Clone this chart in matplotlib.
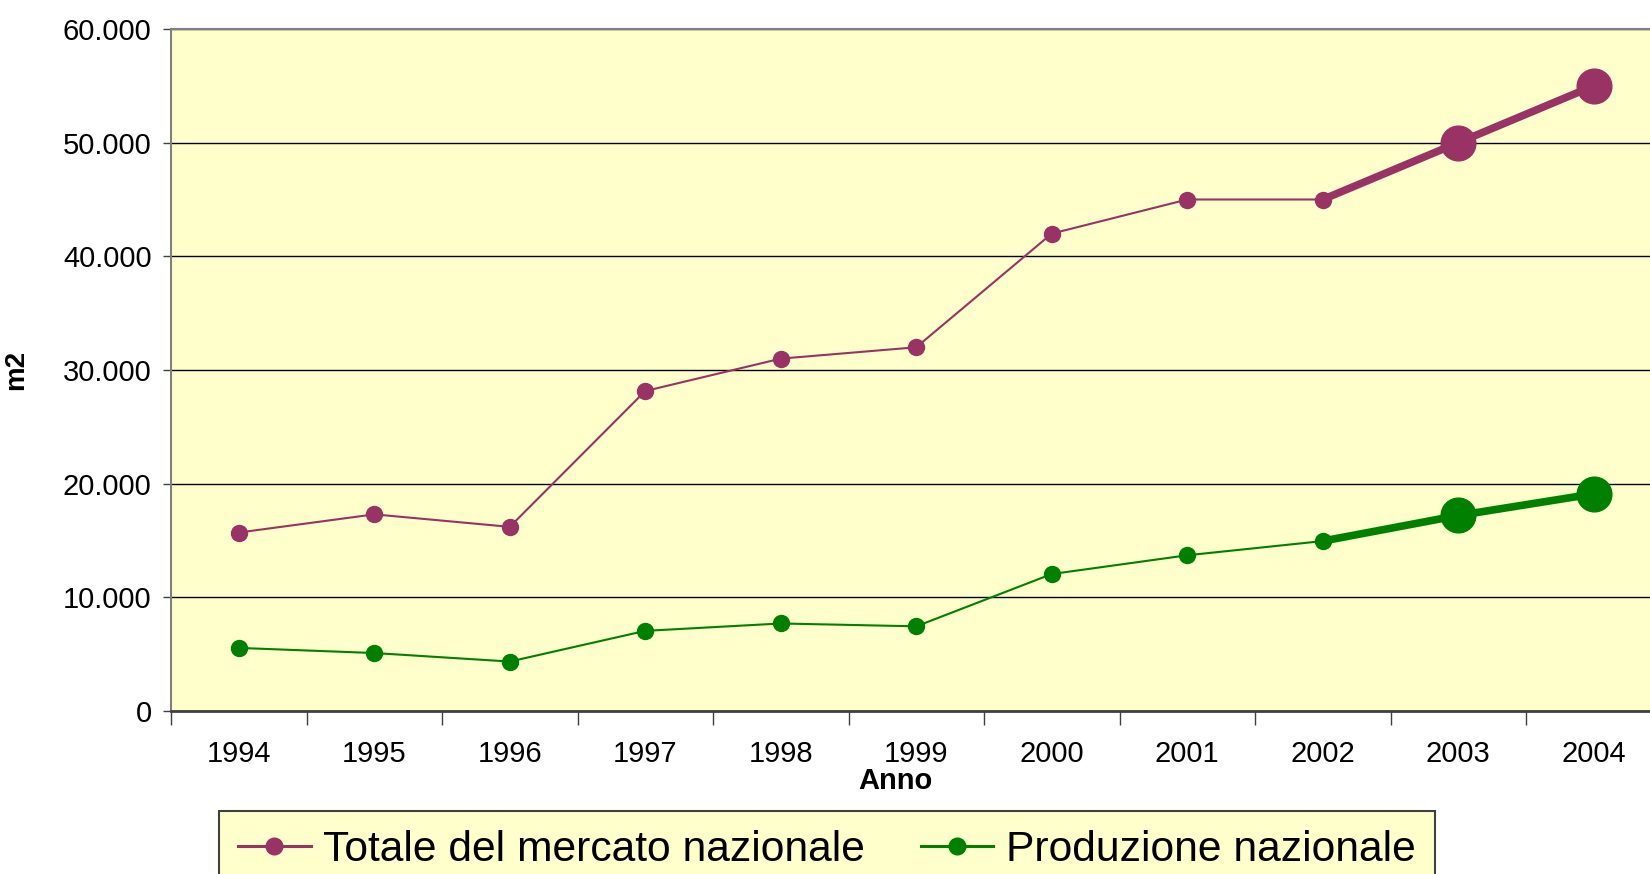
import matplotlib.pyplot as plt
from matplotlib.ticker import FuncFormatter, FixedLocator
from matplotlib.lines import Line2D

plt.rcParams['font.family'] = ['Liberation Sans', 'DejaVu Sans']

anni = [1994, 1995, 1996, 1997, 1998, 1999, 2000, 2001, 2002, 2003, 2004]
totale = [15700, 17300, 16200, 28150, 31000, 32000, 42000, 45000, 45000, 50000, 55000]
produzione = [5550, 5100, 4350, 7050, 7700, 7450, 12050, 13700, 14950, 17200, 19100]
y_ticks = [0, 10000, 20000, 30000, 40000, 50000, 60000]

viola = '#993366'
verde = '#008000'

fig = plt.figure(figsize=(16.5, 8.74), dpi=100)
ax = fig.add_axes([171 / 1650, 1 - 711 / 874, 1490.5 / 1650, 682 / 874])
ax.set_facecolor('#FFFFCC')

for serie, col in [(totale, viola), (produzione, verde)]:
    # primi anni: linea sottile, marker piccoli
    ax.plot(anni[:9], serie[:9], color=col, lw=1.5, marker='o', ms=11.5, zorder=3)
    # ultimi anni evidenziati
    ax.plot(anni[8:], serie[8:], color=col, lw=5.5, zorder=3)
    ax.plot(anni[9:], serie[9:], 'o', color=col, ms=25, zorder=4)

ax.set_xlim(anni[0] - 0.5, anni[-1] + 0.5)
ax.set_ylim(0, 60000)
ax.yaxis.set_major_locator(FixedLocator(y_ticks))
ax.yaxis.set_major_formatter(FuncFormatter(lambda v, p: f"{v:,.0f}".replace(",", ".")))
ax.grid(axis='y', color='black', lw=1)
ax.set_axisbelow(True)

ax.xaxis.set_major_locator(FixedLocator([a - 0.5 for a in anni] + [anni[-1] + 0.5]))
ax.set_xticks(anni, minor=True)
ax.set_xticklabels([str(a) for a in anni], minor=True)
ax.xaxis.set_major_formatter(FuncFormatter(lambda v, p: ''))
ax.tick_params(axis='x', which='major', length=10, width=1, color='#404040')
ax.tick_params(axis='x', which='minor', length=0, pad=21, labelsize=21)
ax.tick_params(axis='y', length=6, width=1, color='#404040', labelsize=21, pad=8)

for s in ['top', 'left']:
    ax.spines[s].set_color('#808080')
    ax.spines[s].set_linewidth(1.5)
ax.spines['bottom'].set_color('#404040')
ax.spines['bottom'].set_linewidth(2)
ax.spines['right'].set_visible(False)

ax.set_ylabel('m2', fontsize=20, fontweight='bold')
ax.yaxis.set_label_coords((29 - 171) / 1490.5, 0.5)
fig.text(895 / 1650, 1 - 781 / 874, 'Anno', fontsize=21, fontweight='bold', ha='center', va='center')

handles = [
    Line2D([], [], color=viola, lw=2.2, marker='o', ms=12),
    Line2D([], [], color=verde, lw=2.2, marker='o', ms=12),
]
leg = fig.legend(handles, ['Totale del mercato nazionale', 'Produzione nazionale'],
                 loc='upper left', bbox_to_anchor=(219 / 1650, 1 - 811 / 874),
                 borderaxespad=0, ncol=2, fontsize=30.7, frameon=True, fancybox=False,
                 handlelength=1.7, handletextpad=0.3, columnspacing=1.3,
                 borderpad=0.45)
leg.get_frame().set_facecolor('#FFFFCC')
leg.get_frame().set_edgecolor('#404040')
leg.get_frame().set_linewidth(1.5)
leg.get_frame().set_alpha(1)

fig.savefig('out.png', dpi=100)
